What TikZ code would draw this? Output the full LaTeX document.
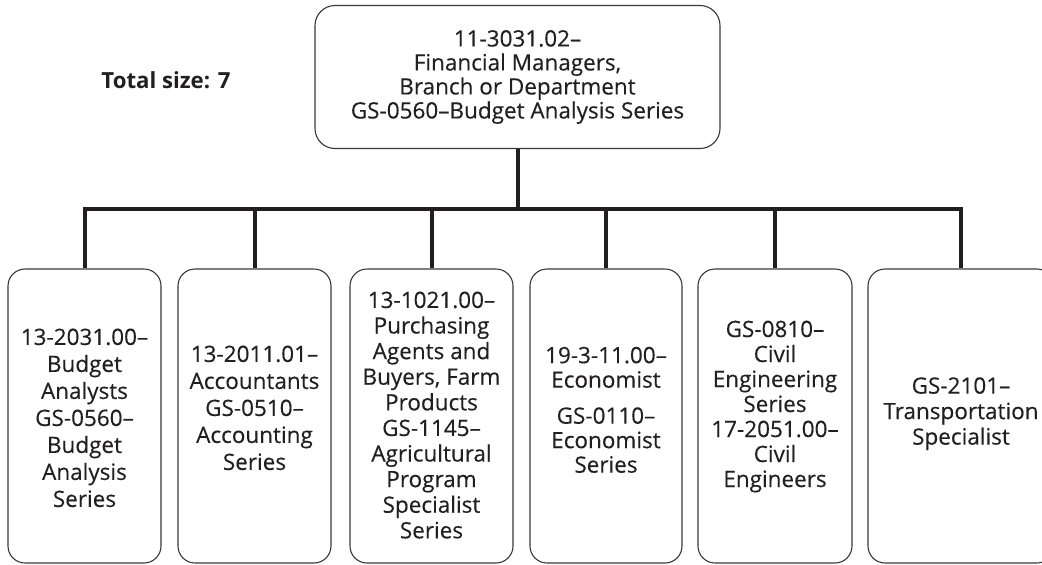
\documentclass[tikz,border=0pt]{standalone}
\usepackage{fontspec}
\setmainfont{Open Sans}[FakeBold=0.3]
\newfontfamily\titlefont{Open Sans}
\definecolor{ink}{HTML}{231F20}
\definecolor{boxline}{HTML}{3A3738}
\newcommand\headfont{\fontsize{22.5}{24}\selectfont}
% stacked lines with a given line pitch, lifted without changing the box size
\newcommand\cardtext[3]{{\fontsize{22.5}{#1}\selectfont
  \raisebox{#2}[\height][\depth]{\begin{tabular}{@{}c@{}}#3\end{tabular}}}}
\begin{document}
\begin{tikzpicture}[x=1pt,y=-1pt,
  every node/.style={text=ink},
  card/.style={draw=boxline, line width=1.1pt, rounded corners=17pt,
    align=center, inner sep=0pt},
  headbox/.style={card, rounded corners=20pt, minimum width=405pt,
    minimum height=143pt, font=\headfont},
  leaf/.style={card, minimum width=#1, minimum height=294pt},
  link/.style={draw=ink, line width=4pt}
]
\useasboundingbox (0,0) rectangle (1042,565);
\clip (0,0) rectangle (1042,565);

% title of the tree size
\node (total) at (166,80) {\titlefont\fontsize{22.2}{26}\selectfont\bfseries Total size: 7};

% root occupation
\node[headbox] (root) at (517.5,77) {11-3031.02--\\Financial Managers,\\Branch or Department\\GS-0560--Budget Analysis Series};

% related occupations
\node[leaf=153pt] (c1) at (84.5,416) {\cardtext{27pt}{-4.5pt}{13-2031.00--\\Budget\\Analysts\\GS-0560--\\Budget\\Analysis\\Series}};
\node[leaf=153pt] (c2) at (254.5,416) {\cardtext{27pt}{5.5pt}{13-2011.01--\\Accountants\\GS-0510--\\Accounting\\Series}};
\node[leaf=163pt] (c3) at (431.5,416) {\cardtext{25.6pt}{-2pt}{13-1021.00--\\Purchasing\\Agents and\\Buyers, Farm\\Products\\GS-1145--\\Agricultural\\Program\\Specialist\\Series}};
\node[leaf=152pt] (c4) at (606,416) {\cardtext{24.5pt}{3pt}{19-3-11.00--\\Economist\\[11.5pt]GS-0110--\\Economist\\Series}};
\node[leaf=154pt] (c5) at (775,416) {\cardtext{25pt}{9pt}{GS-0810--\\Civil\\Engineering\\Series\\17-2051.00--\\Civil\\Engineers}};
\node[leaf=186pt] (c6) at (961,416) {\cardtext{25.5pt}{2pt}{GS-2101--\\Transportation\\Specialist}};

% bus line joining the root to its children
\coordinate (bus) at (518,209);
\foreach \c in {c1,c2,c3,c4,c5,c6}
  \draw[link] (root.south) -- (root.south |- bus) -| (\c.north);
\end{tikzpicture}
\end{document}
